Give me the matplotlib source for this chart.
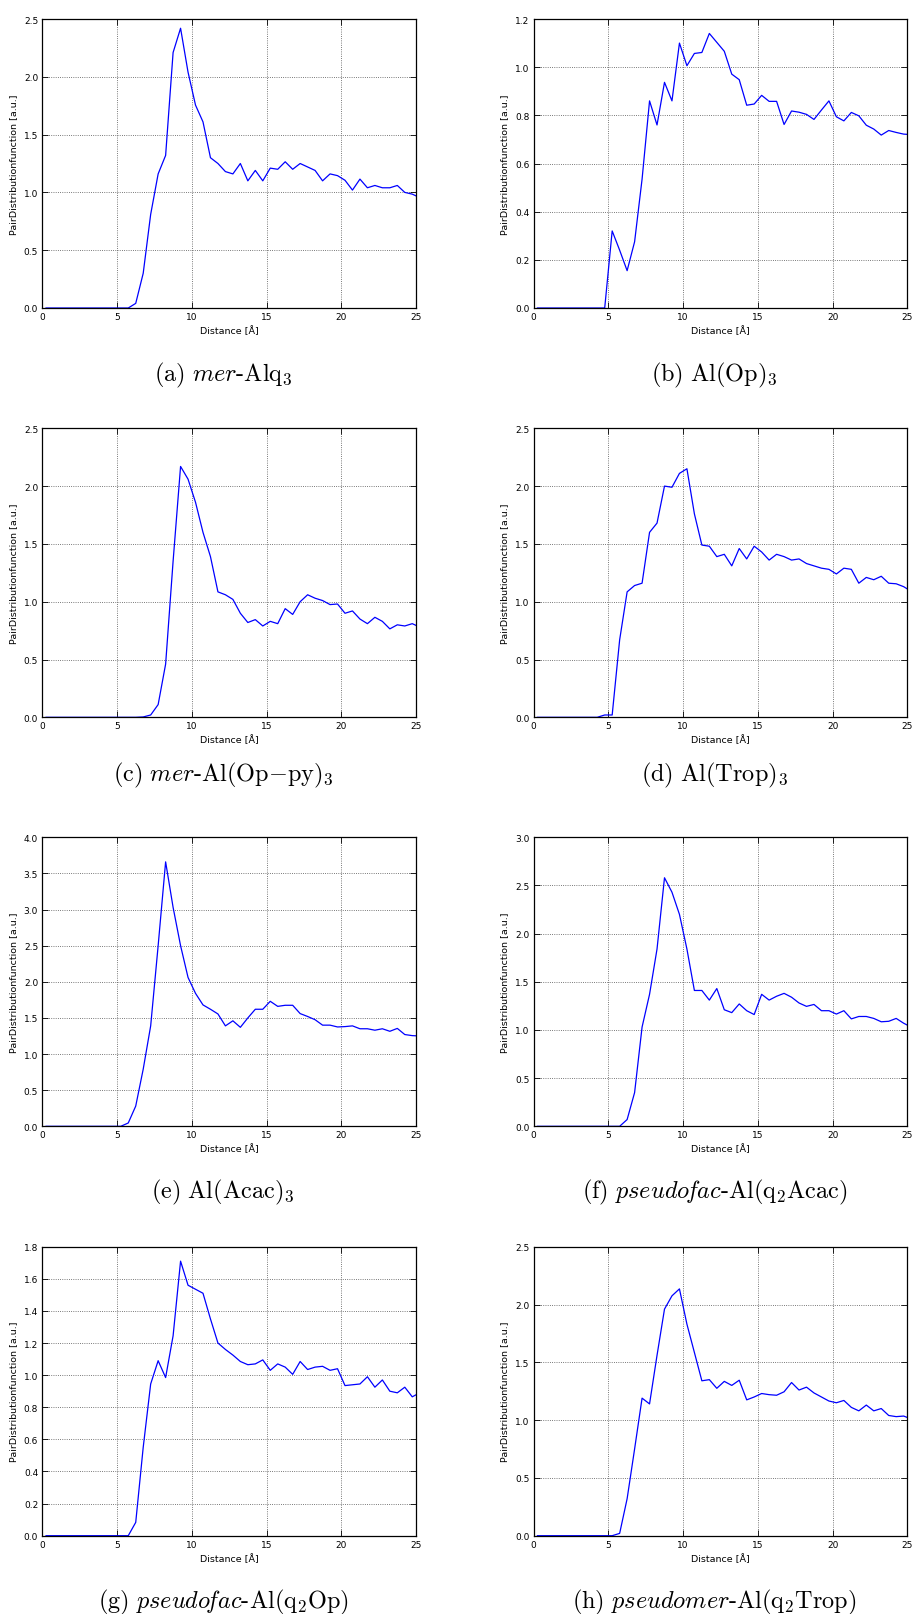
import matplotlib
matplotlib.use("Agg")
import matplotlib.pyplot as plt
import numpy as np

# bin centres of the pair distribution function [A]
distance = [0.25, 0.75, 1.25, 1.75, 2.25, 2.75, 3.25, 3.75, 4.25, 4.75,
            5.25, 5.75, 6.25, 6.75, 7.25, 7.75, 8.25, 8.75, 9.25, 9.75,
            10.25, 10.75, 11.25, 11.75, 12.25, 12.75, 13.25, 13.75, 14.25, 14.75,
            15.25, 15.75, 16.25, 16.75, 17.25, 17.75, 18.25, 18.75, 19.25, 19.75,
            20.25, 20.75, 21.25, 21.75, 22.25, 22.75, 23.25, 23.75, 24.25, 24.75,
            25.25]

mer_alq3 = [0.0] * 12 + [
    0.04, 0.30, 0.81, 1.16, 1.32, 2.21, 2.42, 2.04, 1.755, 1.61,
    1.30, 1.25, 1.18, 1.16, 1.25, 1.10, 1.19, 1.10, 1.21, 1.20,
    1.265, 1.20, 1.25, 1.22, 1.19, 1.10, 1.16, 1.145, 1.105, 1.02,
    1.115, 1.04, 1.06, 1.04, 1.04, 1.06, 1.00, 0.985, 0.955]

al_op3 = [0.0] * 10 + [
    0.32, 0.24, 0.155, 0.275, 0.535, 0.86, 0.76, 0.937, 0.86, 1.10,
    1.006, 1.057, 1.061, 1.14, 1.103, 1.066, 0.971, 0.948, 0.842, 0.847,
    0.883, 0.858, 0.858, 0.762, 0.818, 0.813, 0.804, 0.783, 0.822, 0.86,
    0.794, 0.777, 0.812, 0.798, 0.759, 0.743, 0.718, 0.737, 0.729, 0.722,
    0.72]

mer_al_oppy3 = [0.0] * 13 + [
    0.003, 0.02, 0.11, 0.46, 1.35, 2.17, 2.06, 1.86, 1.60, 1.39,
    1.085, 1.06, 1.02, 0.90, 0.82, 0.845, 0.79, 0.83, 0.81, 0.94,
    0.89, 1.00, 1.06, 1.03, 1.01, 0.975, 0.98, 0.90, 0.92, 0.85,
    0.81, 0.865, 0.83, 0.765, 0.80, 0.79, 0.81, 0.78]

al_trop3 = [0.0] * 9 + [
    0.02, 0.02, 0.67, 1.085, 1.14, 1.16, 1.60, 1.68, 2.00, 1.99,
    2.11, 2.15, 1.76, 1.49, 1.48, 1.39, 1.41, 1.31, 1.46, 1.37,
    1.48, 1.43, 1.36, 1.41, 1.39, 1.36, 1.37, 1.33, 1.31, 1.29,
    1.28, 1.24, 1.29, 1.28, 1.16, 1.21, 1.19, 1.22, 1.16, 1.155,
    1.13, 1.09]

al_acac3 = [0.0] * 11 + [
    0.046, 0.28, 0.79, 1.39, 2.5, 3.66, 3.03, 2.50, 2.06, 1.84,
    1.68, 1.62, 1.555, 1.39, 1.46, 1.37, 1.50, 1.62, 1.62, 1.73,
    1.66, 1.675, 1.675, 1.56, 1.52, 1.475, 1.40, 1.40, 1.375, 1.38,
    1.39, 1.35, 1.35, 1.33, 1.35, 1.315, 1.355, 1.27, 1.255, 1.25]

pfac_q2acac = [0.0] * 12 + [
    0.07, 0.35, 1.03, 1.37, 1.84, 2.58, 2.43, 2.20, 1.84, 1.41,
    1.41, 1.31, 1.43, 1.21, 1.18, 1.27, 1.20, 1.16, 1.37, 1.31,
    1.35, 1.38, 1.34, 1.28, 1.245, 1.265, 1.20, 1.20, 1.165, 1.20,
    1.115, 1.14, 1.14, 1.12, 1.085, 1.09, 1.12, 1.07, 1.03]

pfac_q2op = [0.0] * 12 + [
    0.083, 0.55, 0.945, 1.09, 0.985, 1.245, 1.71, 1.56, 1.535, 1.51,
    1.35, 1.20, 1.16, 1.125, 1.085, 1.065, 1.07, 1.095, 1.03, 1.07,
    1.05, 1.005, 1.085, 1.035, 1.05, 1.055, 1.03, 1.04, 0.935, 0.94,
    0.945, 0.99, 0.925, 0.97, 0.90, 0.89, 0.925, 0.865, 0.89]

pmer_q2trop = [0.0] * 11 + [
    0.02, 0.32, 0.75, 1.19, 1.14, 1.56, 1.96, 2.075, 2.135, 1.83,
    1.585, 1.34, 1.35, 1.275, 1.335, 1.30, 1.345, 1.175, 1.20, 1.23,
    1.22, 1.215, 1.245, 1.325, 1.26, 1.285, 1.235, 1.20, 1.165, 1.15,
    1.17, 1.11, 1.08, 1.13, 1.08, 1.10, 1.04, 1.03, 1.035, 1.01]

captions = [
    r'$\mathrm{(a)}\ \mathit{mer}\text{-}\mathrm{Alq}_3$',
    r'$\mathrm{(b)}\ \mathrm{Al(Op)}_3$',
    r'$\mathrm{(c)}\ \mathit{mer}\text{-}\mathrm{Al(Op{-}py)}_3$',
    r'$\mathrm{(d)}\ \mathrm{Al(Trop)}_3$',
    r'$\mathrm{(e)}\ \mathrm{Al(Acac)}_3$',
    r'$\mathrm{(f)}\ \mathit{pseudo}\!\mathit{fac}\text{-}\mathrm{Al(q}_2\mathrm{Acac)}$',
    r'$\mathrm{(g)}\ \mathit{pseudo}\!\mathit{fac}\text{-}\mathrm{Al(q}_2\mathrm{Op)}$',
    r'$\mathrm{(h)}\ \mathit{pseudomer}\text{-}\mathrm{Al(q}_2\mathrm{Trop)}$',
]
series = [mer_alq3, al_op3, mer_al_oppy3, al_trop3,
          al_acac3, pfac_q2acac, pfac_q2op, pmer_q2trop]
y_max = [2.5, 1.2, 2.5, 2.5, 4.0, 3.0, 1.8, 2.5]
y_step = [0.5, 0.2, 0.5, 0.5, 0.5, 0.5, 0.2, 0.5]

plt.rcParams['mathtext.fontset'] = 'cm'
plt.rcParams['xtick.direction'] = 'in'
plt.rcParams['ytick.direction'] = 'in'
plt.rcParams['xtick.top'] = True
plt.rcParams['ytick.right'] = True

W, H = 914, 1615
fig = plt.figure(figsize=(W / 100, H / 100), dpi=100, facecolor='white')

left_px = [42.3, 533.7]
top_px = [20, 429.3, 838.3, 1247.7]
cap_px = [375.7, 775.7, 1192, 1602]
ax_w, ax_h = 373.7, 289

for k in range(8):
    row, col = divmod(k, 2)
    ax = fig.add_axes([left_px[col] / W, 1 - (top_px[row] + ax_h) / H,
                       ax_w / W, ax_h / H])
    ax.plot(distance, series[k], color='b', lw=0.9)
    ax.set_xlim(0, 25)
    ax.set_ylim(0, y_max[k])
    ax.set_xticks([0, 5, 10, 15, 20, 25])
    ax.set_yticks(np.arange(0, y_max[k] + 1e-9, y_step[k]))
    ax.yaxis.set_major_formatter(matplotlib.ticker.FormatStrFormatter('%.1f'))
    ax.tick_params(labelsize=6.5, length=4, width=0.6, pad=3)
    ax.grid(True, color='0.3', linestyle=':', linewidth=0.6)
    for s in ax.spines.values():
        s.set_linewidth(0.9)
    ax.set_xlabel(u'Distance [\u00c5]', fontsize=6.8, labelpad=3)
    ax.set_ylabel('PairDistributionfunction [a.u.]', fontsize=6.8, labelpad=4)
    cx = left_px[col] + ax_w / 2 - 6
    fig.text(cx / W, 1 - cap_px[row] / H, captions[k], fontsize=17.5,
             ha='center', va='center')

fig.savefig('out.png', dpi=100, facecolor='white')
